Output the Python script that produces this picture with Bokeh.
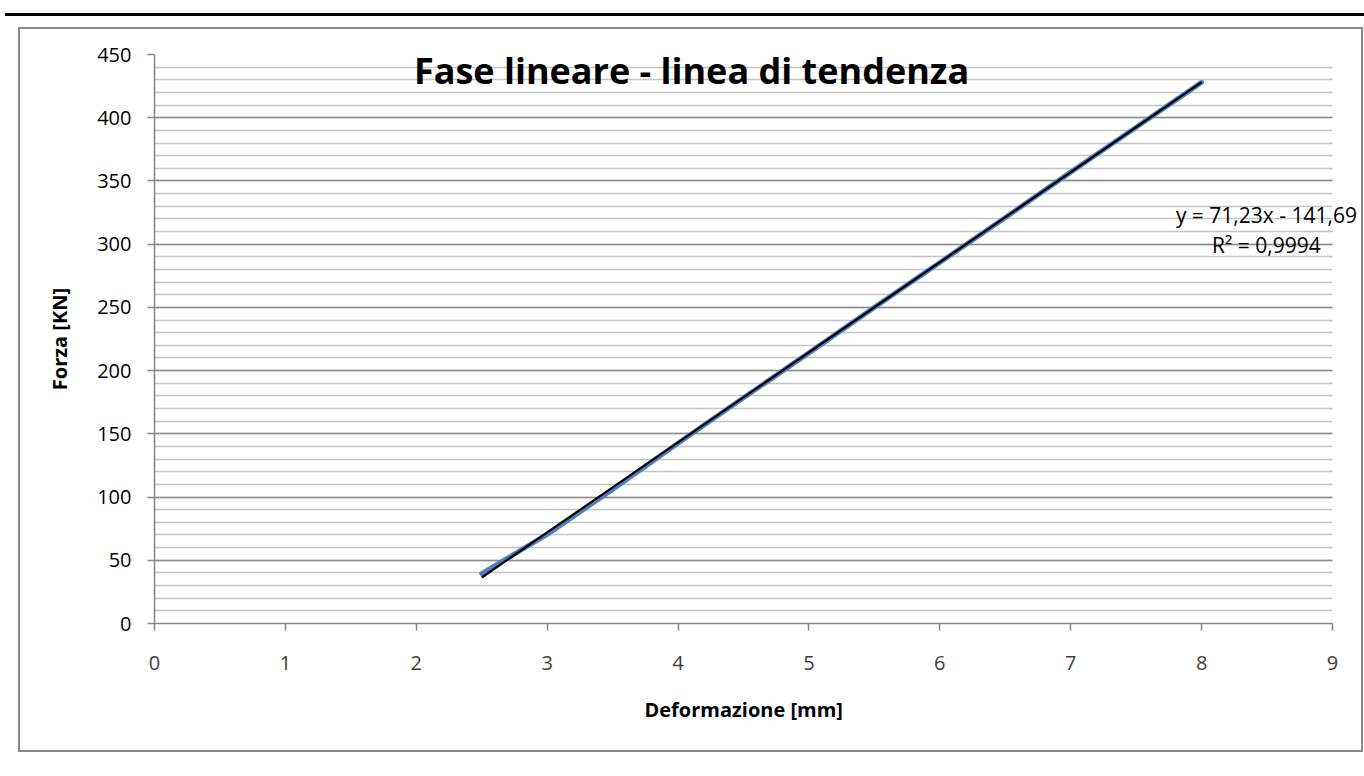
from bokeh.plotting import figure
from bokeh.models import (Div, Label, SingleIntervalTicker, FixedTicker, Range1d,
                          BoxAnnotation, Title)
from bokeh.layouts import column
from bokeh.embed import file_html
from bokeh.resources import INLINE

# ---- data ----
deformazione = [2.5, 3.0, 3.5, 4.0, 4.5, 5.0, 5.5, 6.0, 6.5, 7.0, 7.5, 8.0]
forza = [39.5, 70.5, 106.0, 142.5, 178.5, 214.0, 250.0, 285.5, 321.0, 357.0, 392.5, 428.0]
trend_slope = 71.23
trend_intercept = -141.69
trend_r2 = "0,9994"
x_ticks = [0, 1, 2, 3, 4, 5, 6, 7, 8, 9]
y_ticks = [0, 50, 100, 150, 200, 250, 300, 350, 400, 450]

title_text = "Fase lineare - linea di tendenza"
x_label = "Deformazione [mm]"
y_label = "Forza [KN]"
eq_text = "y = 71,23x - 141,69"
r2_text = "R² = " + trend_r2

FONT = "Open Sans"
X_MAX = 9            # last axis value
X_VIEW_END = 9.2216  # room right of the axis for the equation text

trend_x = [min(deformazione), max(deformazione)]
trend_y = [trend_slope * v + trend_intercept for v in trend_x]

p = figure(width=1341, height=721, output_backend="svg", toolbar_location=None,
           x_range=Range1d(0, X_VIEW_END), y_range=Range1d(0, 450),
           min_border_left=134, min_border_right=0, min_border_top=25, min_border_bottom=127)
p.background_fill_color = "white"
p.border_fill_color = "white"
p.outline_line_color = None

# axes
p.xaxis.ticker = FixedTicker(ticks=x_ticks)
p.xaxis.bounds = (0, X_MAX)
p.yaxis.ticker = SingleIntervalTicker(interval=50, num_minor_ticks=5)
for ax in (p.xaxis[0], p.yaxis[0]):
    ax.axis_line_color = "#868686"
    ax.axis_line_width = 1.5
    ax.major_tick_line_color = "#868686"
    ax.major_tick_line_width = 1.5
    ax.major_tick_in = 0
    ax.major_tick_out = 7
    ax.minor_tick_line_color = None
    ax.major_label_text_font = FONT
    ax.major_label_text_font_size = "20px"
    ax.axis_label_text_font = FONT
    ax.axis_label_text_font_style = "bold"
    ax.axis_label_text_font_size = "20px"
    ax.axis_label_text_color = "black"
p.xaxis.major_label_text_color = "#404040"
p.yaxis.major_label_text_color = "black"
p.xaxis.major_label_standoff = 25
p.yaxis.major_label_standoff = 16
p.yaxis.axis_label = y_label
p.yaxis.axis_label_standoff = 21

# x-axis title, centred under the axis (0..9) rather than under the wider frame
p.add_layout(Title(text=x_label, align="left", offset=490, standoff=42,
                   text_font=FONT, text_font_style="bold", text_font_size="20px",
                   text_color="black"), "below")

# grid
p.xgrid.grid_line_color = None
p.ygrid.grid_line_color = "#8c8c8c"
p.ygrid.grid_line_width = 1.5
p.ygrid.minor_grid_line_color = "#c4c4c4"
p.ygrid.minor_grid_line_width = 1.5

# blank area right of the plot area (grid stops at x = 9)
p.add_layout(BoxAnnotation(left=X_MAX, fill_color="white", fill_alpha=1.0,
                           line_color=None, level="underlay"))

# series
p.line(deformazione, forza, line_color="#4F81BD", line_width=5, line_cap="round", line_join="round")
p.line(trend_x, trend_y, line_color="black", line_width=2.2)

# title
p.add_layout(Label(x=4.103, y=437.0, text=title_text, text_font=FONT,
                   text_font_style="bold", text_font_size="36px", text_color="black",
                   text_align="center", text_baseline="middle"))

# trend equation
p.add_layout(Label(x=8.495, y=322.7, text=eq_text, text_font=FONT, text_font_size="21px",
                   text_color="black", text_align="center", text_baseline="middle"))
p.add_layout(Label(x=8.495, y=299.0, text=r2_text, text_font=FONT,
                   text_font_size="21px", text_color="black", text_align="center",
                   text_baseline="middle"))

top_rule = Div(width=1359, height=3, styles={"background-color": "black"}, margin=(13, 0, 0, 5))
boxed = column(p, styles={"border": "2px solid #8a8a8a"}, margin=(11, 0, 0, 18))
layout = column(top_rule, boxed, margin=0)

open("out.html", "w").write(file_html(layout, INLINE))
